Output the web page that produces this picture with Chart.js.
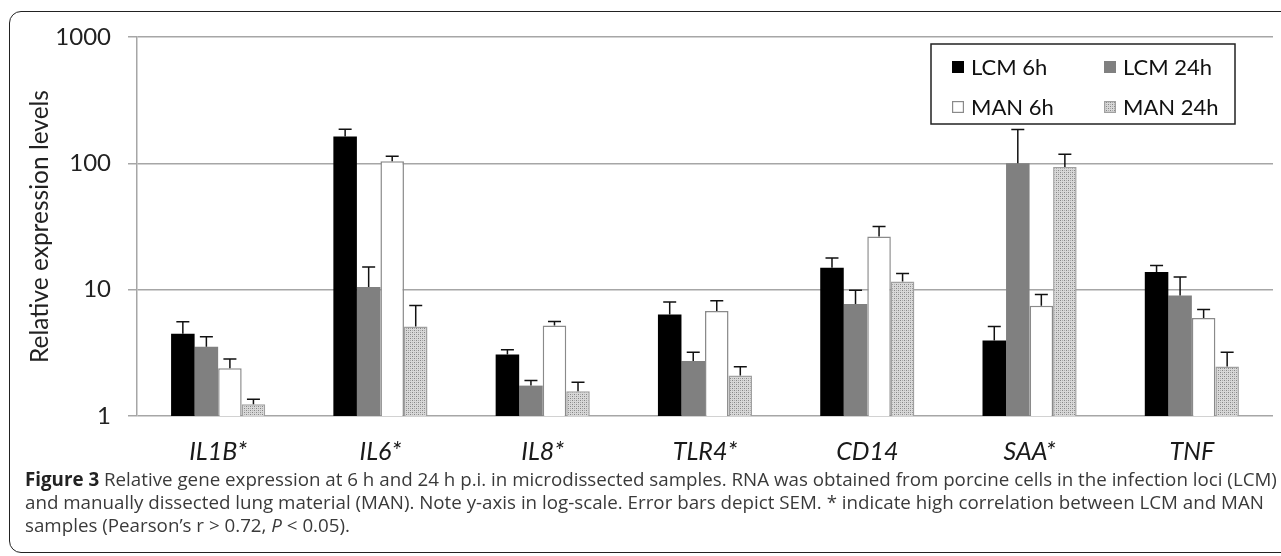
<!DOCTYPE html>
<html>
<head>
<meta charset="utf-8">
<script src="https://cdn.jsdelivr.net/npm/chart.js@4.4.1/dist/chart.umd.min.js"></script>
<style>
  html, body { margin: 0; padding: 0; background: #fff; width: 1281px; height: 556px; overflow: hidden; }
  #frame { position: absolute; left: 9px; top: 11px; width: 1320px; height: 542px; border: 1.5px solid #222; border-radius: 12px; box-sizing: border-box; }
  #chartWrap { position: absolute; left: 0; top: 0; width: 1281px; height: 470px; }
  #caption { position: absolute; left: 25px; top: 467px; font-family: "Open Sans", sans-serif; font-size: 16px; line-height: 23px; color: #3a3a3a; white-space: nowrap; }
  #caption b { color: #222; }
</style>
</head>
<body>
<div id="frame"></div>
<div id="chartWrap"><canvas id="c" width="1281" height="470"></canvas></div>
<div id="caption">
  <div id="cap1"><b>Figure 3</b> Relative gene expression at 6 h and 24 h p.i. in microdissected samples. RNA was obtained from porcine cells in the infection loci (LCM)</div>
  <div>and manually dissected lung material (MAN). Note y-axis in log-scale. Error bars depict SEM. * indicate high correlation between LCM and MAN</div>
  <div>samples (Pearson’s r &gt; 0.72, <i>P</i> &lt; 0.05).</div>
</div>
<script>
// ---- Data ----
const categories = ['IL1B*', 'IL6*', 'IL8*', 'TLR4*', 'CD14', 'SAA*', 'TNF'];
const seriesNames = ['LCM 6h', 'LCM 24h', 'MAN 6h', 'MAN 24h'];
const lcm6h  = [4.47, 163, 3.07, 6.37, 14.9, 3.96, 13.8];
const lcm24h = [3.53, 10.5, 1.74, 2.72, 7.7, 100, 9.0];
const man6h  = [2.39, 104, 5.21, 6.78, 26.3, 7.46, 5.96];
const man24h = [1.24, 5.1, 1.57, 2.09, 11.6, 93.5, 2.46];
// SEM (upper error bar length)
const semLcm6h  = [1.1, 23, 0.27, 1.6, 2.9, 1.15, 1.7];
const semLcm24h = [0.7, 4.6, 0.17, 0.48, 2.2, 85, 3.6];
const semMan6h  = [0.44, 10, 0.4, 1.4, 5.3, 1.7, 1.0];
const semMan24h = [0.12, 2.4, 0.28, 0.36, 1.8, 24.5, 0.74];
const yTicks = [1, 10, 100, 1000];
const yTitle = 'Relative expression levels';

// stipple pattern for MAN 24h
function makePattern() {
  const p = document.createElement('canvas');
  p.width = 4; p.height = 4;
  const g = p.getContext('2d');
  g.fillStyle = '#d8d8d8';
  g.fillRect(0, 0, 4, 4);
  g.fillStyle = '#858585';
  g.fillRect(0, 0, 1, 1);
  g.fillRect(2, 2, 1, 1);
  g.fillStyle = '#acacac';
  g.fillRect(2, 0, 1, 1);
  g.fillRect(0, 2, 1, 1);
  return document.getElementById('c').getContext('2d').createPattern(p, 'repeat');
}
const stipple = makePattern();

const datasets = [
  { label: seriesNames[0], data: lcm6h,  sem: semLcm6h,  backgroundColor: '#000000', borderColor: '#000000', borderWidth: 0 },
  { label: seriesNames[1], data: lcm24h, sem: semLcm24h, backgroundColor: '#808080', borderColor: '#808080', borderWidth: 0 },
  { label: seriesNames[2], data: man6h,  sem: semMan6h,  backgroundColor: '#ffffff', borderColor: '#8a8a8a', borderWidth: 1.5 },
  { label: seriesNames[3], data: man24h, sem: semMan24h, backgroundColor: stipple,   borderColor: '#a0a0a0', borderWidth: 1.5 }
].map(d => Object.assign(d, { barPercentage: 1.0, categoryPercentage: 0.58, borderSkipped: 'bottom' }));

const errorBars = {
  id: 'errorBars',
  afterDatasetsDraw(chart) {
    const ctx = chart.ctx;
    const ys = chart.scales.y;
    ctx.save();
    ctx.strokeStyle = '#111';
    ctx.lineWidth = 1.5;
    chart.data.datasets.forEach((ds, i) => {
      const meta = chart.getDatasetMeta(i);
      meta.data.forEach((el, j) => {
        const top = ys.getPixelForValue(ds.data[j] + ds.sem[j]);
        ctx.beginPath();
        ctx.moveTo(el.x, el.y);
        ctx.lineTo(el.x, top);
        ctx.moveTo(el.x - 6.5, top);
        ctx.lineTo(el.x + 6.5, top);
        ctx.stroke();
      });
    });
    ctx.restore();
  }
};

const boxLegend = {
  id: 'boxLegend',
  afterDraw(chart) {
    const ctx = chart.ctx;
    ctx.save();
    const bx = 931, by = 44, bw = 304, bh = 80;
    ctx.fillStyle = '#fff';
    ctx.fillRect(bx, by, bw, bh);
    ctx.strokeStyle = '#222';
    ctx.lineWidth = 1.5;
    ctx.strokeRect(bx, by, bw, bh);
    const cols = [952, 1104], rows = [67, 107];
    ctx.font = '22px Lato';
    ctx.textBaseline = 'middle';
    chart.data.datasets.forEach((ds, i) => {
      const x = cols[i % 2], y = rows[Math.floor(i / 2)];
      ctx.fillStyle = ds.backgroundColor;
      ctx.fillRect(x, y - 6, 12, 12);
      if (ds.borderWidth) {
        ctx.strokeStyle = ds.borderColor;
        ctx.lineWidth = 1.2;
        ctx.strokeRect(x + 0.6, y - 5.4, 10.8, 10.8);
      }
      ctx.fillStyle = '#111';
      ctx.fillText(ds.label, x + 19, y + 1);
    });
    ctx.restore();
  }
};

new Chart(document.getElementById('c'), {
  type: 'bar',
  data: { labels: categories, datasets },
  options: {
    responsive: false,
    animation: false,
    layout: { padding: { left: 0, right: 8, top: 37, bottom: 0 } },
    plugins: { legend: { display: false }, tooltip: { enabled: false } },
    scales: {
      x: {
        grid: { display: false, drawTicks: false },
        border: { display: false },
        ticks: { font: { family: 'Lato', size: 25, style: 'italic' }, color: '#1a1a1a', padding: 21, maxRotation: 0 },
        afterFit(s) { s.height = 54; }
      },
      y: {
        type: 'logarithmic',
        min: 1, max: 1000,
        afterBuildTicks(s) { s.ticks = yTicks.map(v => ({ value: v })); },
        grid: { color: '#a6a6a6', lineWidth: 1.5, tickLength: 9 },
        border: { display: true, color: '#a6a6a6', width: 1.5 },
        ticks: { font: { family: 'Lato', size: 24 }, color: '#222', padding: 17, callback: v => String(v) },
        title: { display: true, text: yTitle, font: { family: 'Lato', size: 24.5 }, color: '#222', padding: { top: 25.5, bottom: 0 } },
        afterFit(s) { s.width = 137; }
      }
    }
  },
  plugins: [errorBars, boxLegend]
});

// fit caption first line to the reference width
(function () {
  const cap = document.getElementById('caption');
  const w = document.getElementById('cap1').getBoundingClientRect().width;
  const target = 1252;
  cap.style.fontSize = (16 * target / w).toFixed(2) + 'px';
})();
</script>
</body>
</html>
